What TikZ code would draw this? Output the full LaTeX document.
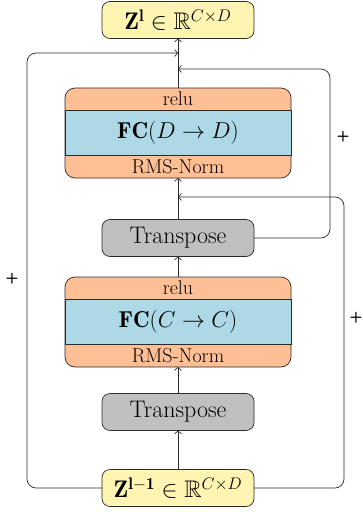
\documentclass[tikz,border=0pt]{standalone}
\usepackage{fix-cm}
\usepackage{amssymb}
\usepackage{fontspec}
\usetikzlibrary{arrows.meta}
\definecolor{cyel}{HTML}{FFF5B3}
\definecolor{corg}{HTML}{FFBF94}
\definecolor{cblu}{HTML}{ADD8E6}
\definecolor{cgry}{HTML}{C0C0C0}
\definecolor{cln}{HTML}{2A2A2A}
\begin{document}
\begin{tikzpicture}[x=1pt,y=-1pt, line width=0.7pt,
  box/.style={draw=cln, rounded corners=8pt, inner sep=0pt, outer sep=0pt, minimum width=152pt, minimum height=37pt, font=\fontsize{24}{28}\selectfont},
  iobox/.style={box, fill=cyel},
  trbox/.style={box, fill=cgry},
  blkbox/.style={draw=cln, rounded corners=10pt, fill=corg, inner sep=0pt, outer sep=0pt, minimum width=226pt, minimum height=90pt},
  band/.style={draw=cln, fill=cblu, inner sep=0pt, outer sep=0pt, minimum width=226pt, minimum height=45pt, font=\fontsize{23}{27}\selectfont},
  small/.style={inner sep=0pt, font=\fontsize{20}{24}\selectfont},
  arr/.style={draw=cln, -{Straight Barb[length=3pt,width=7pt]}},
  plus/.style={font=\sffamily\bfseries\fontsize{15}{17}\selectfont, inner sep=0pt},
  skip/.style={arr, rounded corners=9pt}
]
\useasboundingbox (0,0) rectangle (362,512);

% nodes
\node[iobox] (top) at (178,20) {$\mathbf{Z}^{\mathbf{l}}\in\mathbb{R}^{C\times D}$};
\node[blkbox] (blk2) at (178,133) {};
\node[band] (fc2) at (178,132.5) {$\mathbf{FC}(D\to D)$};
\node[small] (relu2) at (178,99) {relu};
\node[small] (rms2) at (178,166.5) {RMS-Norm};
\node[trbox] (tr2) at (178,238) {Transpose};
\node[blkbox] (blk1) at (178,322) {};
\node[band] (fc1) at (178,322) {$\mathbf{FC}(C\to C)$};
\node[small] (relu1) at (178,288) {relu};
\node[small] (rms1) at (178,356) {RMS-Norm};
\node[trbox] (tr1) at (178,412) {Transpose};
\node[iobox] (bot) at (178,488) {$\mathbf{Z}^{\mathbf{l-1}}\in\mathbb{R}^{C\times D}$};

% main path
\draw[arr] (bot.north) -- (tr1.south);
\draw[arr] (tr1.north) -- (blk1.south);
\draw[arr] (blk1.north) -- (tr2.south);
\draw[arr] (tr2.north) -- (blk2.south);
\draw[arr] (blk2.north) -- (top.south);

% skip junctions
\coordinate (jL) at (178,53);
\coordinate (jR1) at (178,69);
\coordinate (jR2) at (178,197);
\coordinate (cL1) at (27,488);
\coordinate (cL2) at (27,53);
\coordinate (cA1) at (330,238);
\coordinate (cA2) at (330,69);
\coordinate (cB1) at (344,488);
\coordinate (cB2) at (344,197);

\draw[skip] (bot.west) -- (cL1) -- (cL2) -- (jL);
\draw[skip] (tr2.east) -- (cA1) -- (cA2) -- (jR1);
\draw[skip] (bot.east) -- (cB1) -- (cB2) -- (jR2);

\node[plus] (p1) at (12,279) {+};
\node[plus] (p2) at (343,137) {+};
\node[plus] (p3) at (356,318) {+};
\end{tikzpicture}
\end{document}
